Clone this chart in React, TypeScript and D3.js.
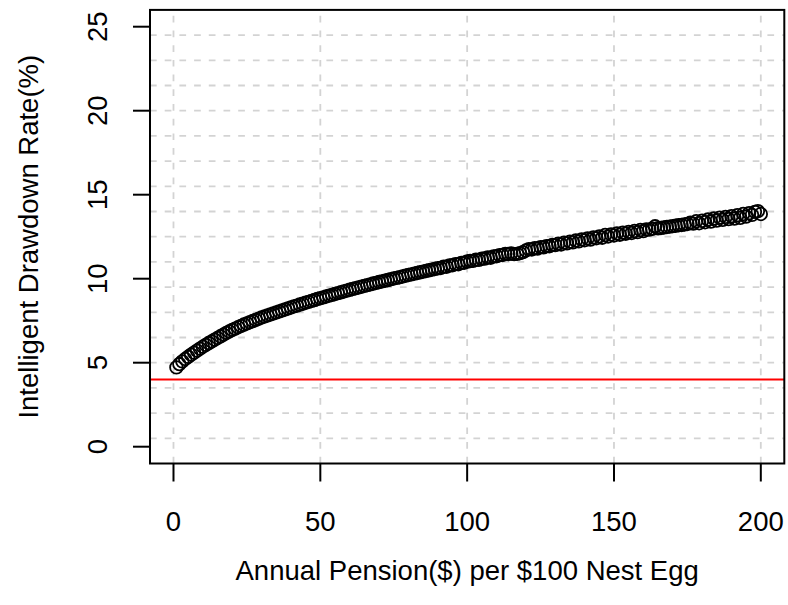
import React from "react";
import * as d3 from "d3";

// x values: annual pension per $100 nest egg (1..200)
const pension: number[] = Array.from({ length: 200 }, (_, i) => i + 1);

// intelligent drawdown rate (%), one per pension value
const drawdown: number[] = [
  4.72, 4.92, 5.08, 5.22, 5.35, 5.48, 5.60, 5.72, 5.84, 5.95,
  6.06, 6.17, 6.27, 6.37, 6.47, 6.57, 6.67, 6.77, 6.86, 6.95,
  7.03, 7.11, 7.19, 7.27, 7.34, 7.41, 7.48, 7.55, 7.62, 7.69,
  7.75, 7.81, 7.87, 7.93, 7.99, 8.05, 8.11, 8.17, 8.23, 8.29,
  8.35, 8.40, 8.46, 8.51, 8.57, 8.62, 8.68, 8.73, 8.79, 8.84,
  8.89, 8.94, 8.99, 9.04, 9.09, 9.14, 9.19, 9.24, 9.29, 9.34,
  9.39, 9.43, 9.48, 9.52, 9.57, 9.62, 9.66, 9.71, 9.75, 9.80,
  9.84, 9.88, 9.92, 9.97, 10.01, 10.05, 10.09, 10.13, 10.18, 10.22,
  10.26, 10.30, 10.34, 10.38, 10.42, 10.46, 10.50, 10.54, 10.58, 10.62,
  10.64, 10.72, 10.71, 10.79, 10.80, 10.87, 10.86, 10.94, 10.95, 11.02,
  11.05, 11.06, 11.13, 11.12, 11.19, 11.20, 11.27, 11.25, 11.33, 11.34,
  11.40, 11.41, 11.48, 11.47, 11.50, 11.46, 11.48, 11.52, 11.58, 11.68,
  11.76, 11.74, 11.82, 11.80, 11.88, 11.87, 11.94, 11.93, 12.01, 12.00,
  12.08, 12.04, 12.15, 12.10, 12.20, 12.16, 12.27, 12.22, 12.34, 12.29,
  12.40, 12.33, 12.46, 12.41, 12.52, 12.44, 12.60, 12.51, 12.63, 12.57,
  12.70, 12.62, 12.74, 12.68, 12.79, 12.72, 12.84, 12.77, 12.90, 12.83,
  12.93, 12.92, 12.97, 13.12, 13.00, 13.02, 13.05, 13.08, 13.10, 13.13,
  13.15, 13.18, 13.20, 13.23, 13.26, 13.33, 13.28, 13.42, 13.30, 13.45,
  13.36, 13.52, 13.40, 13.58, 13.46, 13.63, 13.50, 13.68, 13.55, 13.72,
  13.58, 13.78, 13.62, 13.85, 13.70, 13.90, 13.80, 13.98, 14.02, 13.85,
];

const xTicks: number[] = [0, 50, 100, 150, 200];
const yTicks: number[] = [0, 5, 10, 15, 20, 25];
const yGrid: number[] = [0.5, 2, 3.5, 5, 6.5, 8, 9.5, 11, 12.5, 14, 15.5, 17, 18.5, 20, 21.5, 23, 24.5];
const refRate: number = 4;

const xTitle = "Annual Pension($) per $100 Nest Egg";
const yTitle = "Intelligent Drawdown Rate(%)";

const W = 788;
const H = 605;
const L = 150;
const R = 784.3;
const T = 9.9;
const B = 463.5;
const FONT = "'Liberation Sans', Arial, Helvetica, sans-serif";
const FS = 27.5;

export default function App() {
  const x = d3.scaleLinear().domain([-8, 208]).range([L, R]);
  const y = d3.scaleLinear().domain([-1, 26]).range([B, T]);
  const gridColor = "#d3d3d3";
  const dash = "6.7 8";
  return (
    <svg
      width={W}
      height={H}
      style={{ position: "absolute", left: 0, top: 0, background: "#fff" }}
      fontFamily={FONT}
    >
      <rect x={0} y={0} width={W} height={H} fill="#fff" />
      {xTicks.map((t) => (
        <line
          key={"gv" + t}
          x1={x(t)}
          x2={x(t)}
          y1={B}
          y2={T}
          stroke={gridColor}
          strokeWidth={1.8}
          strokeDasharray={dash}
        />
      ))}
      {yGrid.map((t) => (
        <line
          key={"gh" + t}
          x1={L}
          x2={R}
          y1={y(t)}
          y2={y(t)}
          stroke={gridColor}
          strokeWidth={1.8}
          strokeDasharray={dash}
        />
      ))}
      {pension.map((p, i) => (
        <circle
          key={"p" + i}
          cx={x(p)}
          cy={y(drawdown[i])}
          r={6.3}
          fill="none"
          stroke="#000"
          strokeWidth={1.8}
        />
      ))}
      <line x1={L} x2={R} y1={y(refRate)} y2={y(refRate)} stroke="#ff0000" strokeWidth={2} />
      <rect x={L} y={T} width={R - L} height={B - T} fill="none" stroke="#000" strokeWidth={2} />
      {xTicks.map((t) => (
        <g key={"xt" + t}>
          <line x1={x(t)} x2={x(t)} y1={B} y2={B + 18} stroke="#000" strokeWidth={2} />
          <text x={x(t)} y={531} textAnchor="middle" fontSize={FS} fill="#000">
            {t}
          </text>
        </g>
      ))}
      {yTicks.map((t) => (
        <g key={"yt" + t}>
          <line x1={L} x2={L - 17} y1={y(t)} y2={y(t)} stroke="#000" strokeWidth={2} />
          <text
            transform={`translate(107,${y(t)}) rotate(-90)`}
            textAnchor="middle"
            fontSize={FS}
            fill="#000"
          >
            {t}
          </text>
        </g>
      ))}
      <text x={(L + R) / 2} y={580} textAnchor="middle" fontSize={FS} fill="#000">
        {xTitle}
      </text>
      <text
        transform={`translate(38,${(T + B) / 2}) rotate(-90)`}
        textAnchor="middle"
        fontSize={FS}
        fill="#000"
      >
        {yTitle}
      </text>
    </svg>
  );
}
